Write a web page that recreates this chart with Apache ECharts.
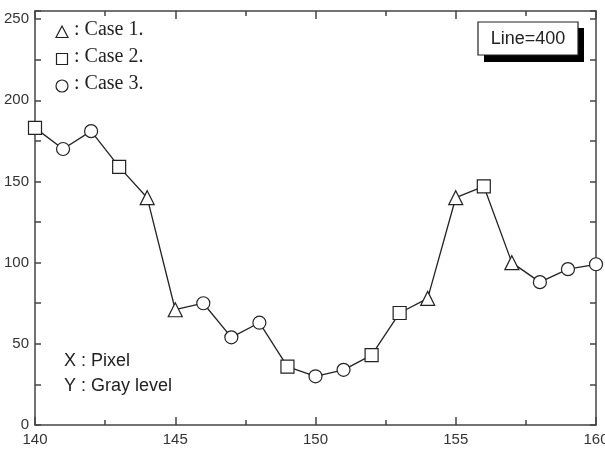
<!DOCTYPE html>
<html>
<head>
<meta charset="utf-8">
<script src="https://cdn.jsdelivr.net/npm/echarts@6/dist/echarts.min.js"></script>
<style>
html, body { margin: 0; padding: 0; background: #fff; overflow: hidden; }
#chart { width: 605px; height: 451px; }
</style>
</head>
<body>
<div id="chart"></div>
<script>
// 数据
var pixels = [140, 141, 142, 143, 144, 145, 146, 147, 148, 149, 150, 151, 152, 153, 154, 155, 156, 157, 158, 159, 160];
var grayLevels = [183, 170, 181, 159, 140, 71, 75, 54, 63, 36, 30, 34, 43, 69, 78, 140, 147, 100, 88, 96, 99];
// 1 = Case 1 (triangle), 2 = Case 2 (square), 3 = Case 3 (circle)
var cases = [2, 3, 3, 2, 1, 1, 3, 3, 3, 2, 3, 3, 2, 2, 1, 1, 2, 1, 3, 3, 3];
var caseSymbols = { 1: 'triangle', 2: 'rect', 3: 'circle' };
var caseSizes = { 1: 14, 2: 13, 3: 13 };
var legendNames = [': Case 1.', ': Case 2.', ': Case 3.'];
var noteLines = ['X : Pixel', 'Y : Gray level'];
var boxLabel = 'Line=400';

var seriesData = pixels.map(function (x, i) {
  return {
    value: [x, grayLevels[i]],
    symbol: caseSymbols[cases[i]],
    symbolSize: caseSizes[cases[i]]
  };
});

var axisColor = '#444';
var sans = 'Liberation Sans, Arial, sans-serif';
var serif = 'Liberation Serif, Times New Roman, serif';

function xAxisCfg(pos, showLabel) {
  return {
    type: 'value', position: pos, min: 140, max: 160, interval: 5,
    axisLine: { show: true, onZero: false, lineStyle: { color: axisColor, width: 1.5 } },
    axisTick: { show: true, inside: true, length: 8, lineStyle: { color: axisColor, width: 1.5 } },
    minorTick: { show: true, splitNumber: 2, length: 5, lineStyle: { color: axisColor, width: 1.5 } },
    axisLabel: { show: showLabel, color: '#333', fontSize: 15, fontFamily: sans, margin: 7 },
    splitLine: { show: false }
  };
}
function yAxisCfg(pos, showLabel) {
  return {
    type: 'value', position: pos, min: 0, max: 255, interval: 50,
    axisLine: { show: true, onZero: false, lineStyle: { color: axisColor, width: 1.5 } },
    axisTick: { show: true, inside: true, length: 6, lineStyle: { color: axisColor, width: 1.5 } },
    minorTick: { show: true, splitNumber: 2, length: 6, lineStyle: { color: axisColor, width: 1.5 } },
    axisLabel: {
      show: showLabel, color: '#333', fontSize: 15, fontFamily: sans, margin: 6,
      formatter: function (v) { return v % 50 === 0 ? String(v) : ''; }
    },
    splitLine: { show: false }
  };
}

// 图例符号
var legendGraphics = [];
var legendY = [32, 59, 86];
legendGraphics.push({ type: 'polygon', shape: { points: [[62, 26], [56, 37.5], [68, 37.5]] }, style: { fill: '#fff', stroke: '#222', lineWidth: 1.2 } });
legendGraphics.push({ type: 'rect', shape: { x: 56.5, y: 53.5, width: 11, height: 11 }, style: { fill: '#fff', stroke: '#222', lineWidth: 1.2 } });
legendGraphics.push({ type: 'circle', shape: { cx: 62, cy: 86, r: 6 }, style: { fill: '#fff', stroke: '#222', lineWidth: 1.2 } });
legendNames.forEach(function (name, i) {
  legendGraphics.push({
    type: 'text', left: 74, top: legendY[i] - 12,
    style: { text: name, font: '20px ' + serif, fill: '#222' }
  });
});
noteLines.forEach(function (t, i) {
  legendGraphics.push({
    type: 'text', left: 64, top: 352 + i * 25,
    style: { text: t, font: '18px ' + sans, fill: '#222' }
  });
});
// Line=400 框
legendGraphics.push({ type: 'rect', shape: { x: 484, y: 28, width: 100, height: 34 }, style: { fill: '#000' } });
legendGraphics.push({ type: 'rect', shape: { x: 478, y: 22, width: 100, height: 33 }, style: { fill: '#fff', stroke: '#222', lineWidth: 1.2 } });
legendGraphics.push({
  type: 'text', x: 528, y: 39,
  style: { text: boxLabel, font: '18px ' + sans, fill: '#222', align: 'center', verticalAlign: 'middle' }
});

var chart = echarts.init(document.getElementById('chart'), null, { renderer: 'canvas' });
chart.setOption({
  animation: false,
  backgroundColor: '#fff',
  grid: { left: 35, right: 9, top: 11, bottom: 26, containLabel: false, outerBoundsMode: 'none' },
  xAxis: [xAxisCfg('bottom', true), xAxisCfg('top', false)],
  yAxis: [yAxisCfg('left', true), yAxisCfg('right', false)],
  series: [{
    type: 'line',
    xAxisIndex: 0, yAxisIndex: 0,
    data: seriesData,
    clip: false,
    showAllSymbol: true,
    lineStyle: { color: '#222', width: 1.3 },
    itemStyle: { color: '#fff', borderColor: '#222', borderWidth: 1.2 }
  }],
  graphic: legendGraphics
});
</script>
</body>
</html>
